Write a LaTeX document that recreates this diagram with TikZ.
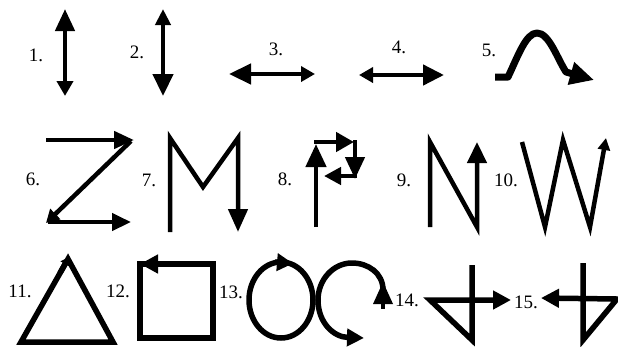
\documentclass[tikz,border=0pt]{standalone}
\usepackage{fontspec}
\setmainfont{Liberation Serif}
\usetikzlibrary{arrows.meta}
\begin{document}
\begin{tikzpicture}[x=1pt,y=-1pt,
  lbl/.style={inner sep=0pt,font=\fontsize{19}{19}\selectfont},
  thin4/.style={line width=4.5pt},
  thick5/.style={line width=5.5pt},
  thick6/.style={line width=7pt}]
\useasboundingbox (0,0) rectangle (618,346);
\fill[white] (0,0) rectangle (618,346);
% labels
\node[lbl] (l1) at (36,55) {1.};
\node[lbl] (l2) at (137,52) {2.};
\node[lbl] (l3) at (276,49) {3.};
\node[lbl] (l4) at (399,47) {4.};
\node[lbl] (l5) at (489,50) {5.};
\node[lbl] (l6) at (33,179) {6.};
\node[lbl] (l7) at (149,180) {7.};
\node[lbl] (l8) at (285,179) {8.};
\node[lbl] (l9) at (404,180) {9.};
\node[lbl] (l10) at (506,180) {10.};
\node[lbl] (l11) at (20,291) {11.};
\node[lbl] (l12) at (118,291) {12.};
\node[lbl] (l13) at (231,292) {13.};
\node[lbl] (l14) at (407,300) {14.};
\node[lbl] (l15) at (526,302) {15.};
% 1
\draw[thin4,{Triangle[length=22pt,width=19pt]}-{Triangle[length=15pt,width=16pt]}] (65,9) -- (65,96);
% 2
\draw[thin4,{Triangle[length=16pt,width=15pt]}-{Triangle[length=22pt,width=20pt]}] (163,9) -- (163,96);
% 3
\draw[thin4,{Triangle[length=22pt,width=20pt]}-{Triangle[length=14pt,width=15pt]}] (229,74) -- (315,74);
% 4
\draw[thin4,{Triangle[length=14pt,width=15pt]}-{Triangle[length=21pt,width=20pt]}] (359,75) -- (444,75);
% 5
\draw[thick6,line join=round,-{Triangle[length=24pt,width=22pt]}]
  (495,77) -- (508,77) .. controls (518,56) and (526,33) .. (537,33)
  .. controls (549,33) and (557,58) .. (566,72) -- (594,80);
% 6
\draw[thin4,-{Triangle[length=20pt,width=17pt]}] (46,140) -- (134,140);
\draw[thin4,-{Triangle[length=13pt,width=14pt]}] (131,141) -- (46,223);
\draw[thin4,-{Triangle[length=19pt,width=17pt]}] (48,222) -- (131,222);
% 7
\draw[thin4,-{Triangle[length=23pt,width=19pt]}] (170,232) -- (170,138) -- (203,187) -- (238,138) -- (238,232);
% 8
\draw[thin4,-{Triangle[length=23pt,width=20pt]}] (316,227) -- (316,144);
\draw[thin4,-{Triangle[length=18pt,width=19pt]}] (314,142) -- (354,142);
\draw[thin4,-{Triangle[length=22pt,width=19pt]}] (355,140) -- (355,179);
\draw[thin4,-{Triangle[length=17pt,width=17pt]}] (357,176) -- (324,176);
% 9
\draw[thin4,-{Triangle[length=21pt,width=19pt]}] (430,227) -- (430,142) -- (477,227) -- (477,142);
% 10
\draw[thin4,-{Triangle[length=12pt,width=12pt]}] (522,142) -- (545,227) -- (563,140) -- (590,227) -- (606,138);
% 11
\draw[thick5] (68,259) -- (113,342) -- (21,342) -- cycle;
\draw[thick5,-{Triangle[length=8pt,width=10pt]}] (60,273) -- (69,257);
% 12
\draw[thick5] (140,264) rectangle (213,338);
\draw[thick5,-{Triangle[length=18pt,width=18pt]}] (180,264) -- (140,264);
% 13
\draw[thick5] (281,300) ellipse [x radius=32, y radius=38];
\draw[thick5,-{Triangle[length=16pt,width=17pt]}] (275,262) -- (293,263.5);
\draw[thick5,-{Triangle[length=17pt,width=17pt]}]
  (383,290) .. controls (383,273) and (368,263) .. (352,263)
  .. controls (333,263) and (318,280) .. (318,300)
  .. controls (318,322) and (333,337) .. (364,338);
\fill (383,282) -- (393,304) -- (373,304) -- cycle;
\draw[line width=3.5pt] (383,300) -- (383,309);
% 14
\draw[thick5,-{Triangle[length=18pt,width=18pt]}] (472,265) -- (472,340) -- (430,300) -- (511,300);
% 15
\draw[thick5,-{Triangle[length=18pt,width=18pt]}] (583,263) -- (583,340) -- (617,299) -- (541,298);
\end{tikzpicture}
\end{document}
